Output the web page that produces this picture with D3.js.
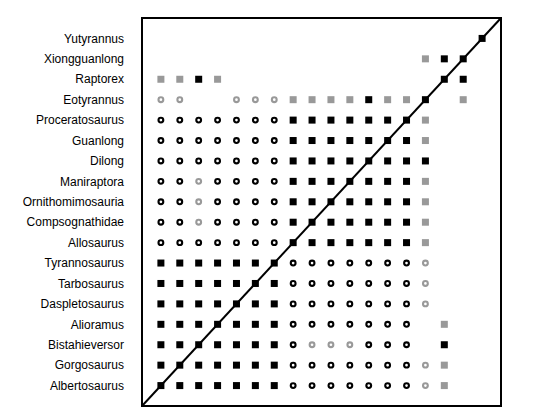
<!DOCTYPE html>
<html>
<head>
<meta charset="utf-8">
<script src="https://cdn.jsdelivr.net/npm/d3@7"></script>
<style>
  body { margin: 0; background: #fff; }
  text { font-family: "Liberation Sans", Arial, sans-serif; }
</style>
</head>
<body>
<div id="chart"></div>
<script>
// taxa, top to bottom (columns run in the reverse order)
const taxa = ["Yutyrannus", "Xiongguanlong", "Raptorex", "Eotyrannus", "Proceratosaurus",
    "Guanlong", "Dilong", "Maniraptora", "Ornithomimosauria", "Compsognathidae",
    "Allosaurus", "Tyrannosaurus", "Tarbosaurus", "Daspletosaurus", "Alioramus",
    "Bistahieversor", "Gorgosaurus", "Albertosaurus"];

// one string per row: S black square, s grey square, o black ring, c grey ring, . empty
const cells = [
    ".................S",
    "..............sSS.",
    "ssSs...........SS.",
    "cc..cccssssSssS.s.",
    "oooooooSSSSSSSs...",
    "oooooooSSSSSSSs...",
    "oooooooSSSSSSSS...",
    "oocooooSSSSSSSs...",
    "oocooooSSSSSSSs...",
    "oocooooSSSSSSSs...",
    "oooooooSSSSSSSs...",
    "SSSSSSSoooooooc...",
    "SSSSSSSoooooooc...",
    "SSSSSSSoooooooc...",
    "SSSSSSSooooooo.s..",
    "SSSSSSSocccooo.S..",
    "SSSSSSSooooooocs..",
    "SSSSSSSooooooocs.."
];

const width = 541, height = 417;
const margin = {top: 18, right: 40, bottom: 11, left: 142};

const svg = d3.select("#chart")
    .append("svg")
    .attr("width", width)
    .attr("height", height);

const n = taxa.length;

let xScale = d3.scaleLinear()
    .domain([0, n + 1])
    .range([margin.left, width - margin.right]);

let yScale = d3.scaleLinear()
    .domain([0, n + 1])
    .range([margin.top, height - margin.bottom]);

// flatten into points
let data = [];
cells.forEach((row, i) => {
    row.split("").forEach((c, j) => {
        if (c !== ".") data.push({row: i, col: j, code: c});
    });
});

const grey = "#999999";

// labels
svg.selectAll("text.label")
    .data(taxa)
    .enter()
    .append("text")
    .attr("class", "label")
    .attr("x", margin.left - 18)
    .attr("y", (d, i) => yScale(i + 1))
    .attr("dy", "0.35em")
    .attr("text-anchor", "end")
    .attr("font-size", "12px")
    .attr("fill", "#000")
    .text(d => d);

// squares
svg.selectAll("rect.cell")
    .data(data.filter(d => d.code === "S" || d.code === "s"))
    .enter()
    .append("rect")
    .attr("class", "cell")
    .attr("x", d => xScale(d.col + 1) - 3.5)
    .attr("y", d => yScale(d.row + 1) - 3.5)
    .attr("width", 7)
    .attr("height", 7)
    .attr("fill", d => d.code === "S" ? "#000" : grey);

// rings
svg.selectAll("circle.cell")
    .data(data.filter(d => d.code === "o" || d.code === "c"))
    .enter()
    .append("circle")
    .attr("class", "cell")
    .attr("cx", d => xScale(d.col + 1))
    .attr("cy", d => yScale(d.row + 1))
    .attr("r", 2.4)
    .attr("fill", "none")
    .attr("stroke", d => d.code === "o" ? "#000" : grey)
    .attr("stroke-width", 2.1);

// diagonal, bottom-left to top-right
svg.append("line")
    .attr("x1", xScale(0))
    .attr("y1", yScale(n + 1))
    .attr("x2", xScale(n + 1))
    .attr("y2", yScale(0))
    .attr("stroke", "#000")
    .attr("stroke-width", 2);

// frame
svg.append("rect")
    .attr("x", xScale(0))
    .attr("y", yScale(0))
    .attr("width", xScale(n + 1) - xScale(0))
    .attr("height", yScale(n + 1) - yScale(0))
    .attr("fill", "none")
    .attr("stroke", "#000")
    .attr("stroke-width", 2);
</script>
</body>
</html>
